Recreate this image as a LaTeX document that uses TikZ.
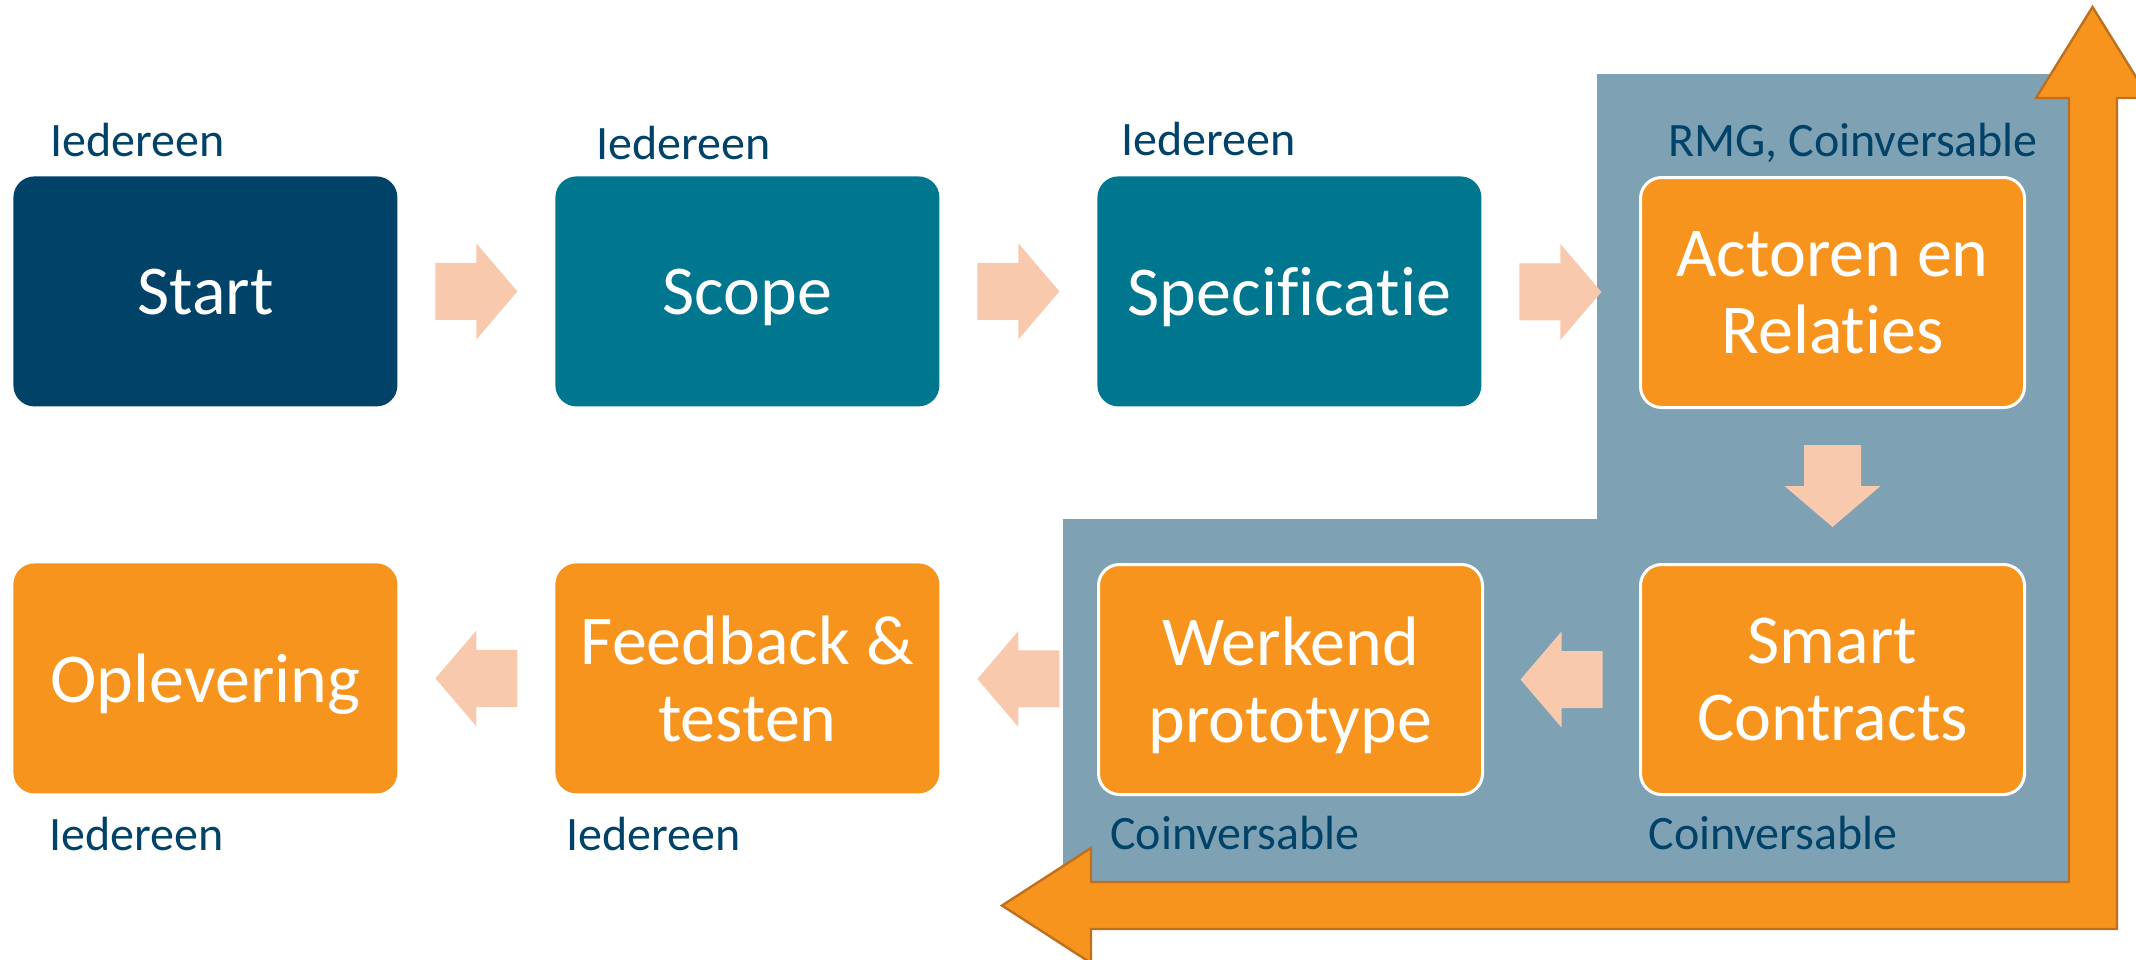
\documentclass[tikz,border=0pt]{standalone}
\usepackage{fontspec}
\setmainfont{Carlito}[Ligatures=NoCommon]
\usetikzlibrary{calc}
\definecolor{navy}{RGB}{0,66,104}
\definecolor{teal}{RGB}{0,118,143}
\definecolor{grayblue}{RGB}{127,161,180}
\definecolor{orng}{RGB}{247,148,30}
\definecolor{peach}{RGB}{249,201,173}
\definecolor{arrline}{RGB}{190,112,30}
\definecolor{lbltext}{RGB}{0,66,104}
\tikzset{
  box/.style={rounded corners=10.5pt, minimum width=192pt, minimum height=115pt,
    inner sep=0pt, text=white, font=\fontsize{35}{38.5}\selectfont,
    align=center, text depth=0pt, anchor=north west},
  lbl/.style={inner sep=0pt, anchor=base west, text=lbltext, font=\fontsize{24}{28}\selectfont},
  rarr/.pic={\fill[peach] (-41,-28.5) -- (0,-28.5) -- (0,-48) -- (41,0) -- (0,48) -- (0,28.5) -- (-41,28.5) -- cycle;},
  larr/.pic={\fill[peach] (41,-28.5) -- (0,-28.5) -- (0,-48) -- (-41,0) -- (0,48) -- (0,28.5) -- (41,28.5) -- cycle;},
  darr/.pic={\fill[peach] (-28.5,-41) -- (28.5,-41) -- (28.5,0) -- (48,0) -- (0,41) -- (-48,0) -- (-28.5,0) -- cycle;}
}
\begin{document}
\begin{tikzpicture}[x=0.5pt,y=-0.5pt]
\useasboundingbox (0,0) rectangle (2136,959);
% grey-blue background region
\fill[grayblue] (1597,74) -- (2093,74) -- (2093,882) -- (1063,882) -- (1063,519) -- (1597,519) -- cycle;
% big bent orange arrow
\draw[fill=orng, draw=arrline, line width=1.2pt, line join=miter]
  (1002,905.5) -- (1091,848) -- (1091,882) -- (2069,882) -- (2069,98) -- (2036,98)
  -- (2092.5,7) -- (2149,98) -- (2117,98) -- (2117,929) -- (1091,929) -- (1091,963) -- cycle;
% boxes
\node[box, fill=navy] (start) at (13,176) {Start};
\node[box, fill=teal] (scope) at (555,176) {Scope};
\node[box, fill=teal] (spec) at (1097,176) {Specificatie};
\node[box, fill=orng, draw=white, line width=1.5pt] (actoren) at (1639,176) {Actoren en\\Relaties};
\node[box, fill=orng, draw=white, line width=1.5pt] (smart) at (1639,563) {Smart\\Contracts};
\node[box, fill=orng, draw=white, line width=1.5pt] (werkend) at (1097,563) {Werkend\\prototype};
\node[box, fill=orng] (feedback) at (555,563) {Feedback \&\\testen};
\node[box, fill=orng] (oplevering) at (13,563) {Oplevering};
% connectors
\pic at ($(start.east)!0.5!(scope.west)$) {rarr};
\pic at ($(scope.east)!0.5!(spec.west)$) {rarr};
\pic at ($(spec.east)!0.5!(actoren.west)$) {rarr};
\pic at ($(actoren.south)!0.5!(smart.north)$) {darr};
\pic at ($(smart.west)!0.5!(werkend.east)$) {larr};
\pic at ($(werkend.west)!0.5!(feedback.east)$) {larr};
\pic at ($(feedback.west)!0.5!(oplevering.east)$) {larr};
% labels
\node[lbl] (l1) at (50,156) {Iedereen};
\node[lbl] (l2) at (596,159) {Iedereen};
\node[lbl] (l3) at (1121,155) {Iedereen};
\node[lbl] (l4) at (1668,156) {RMG, Coinversable};
\node[lbl] (l5) at (1648,849) {Coinversable};
\node[lbl] (l6) at (1110,849) {Coinversable};
\node[lbl] (l7) at (566,850) {Iedereen};
\node[lbl] (l8) at (49,850) {Iedereen};
\end{tikzpicture}
\end{document}
